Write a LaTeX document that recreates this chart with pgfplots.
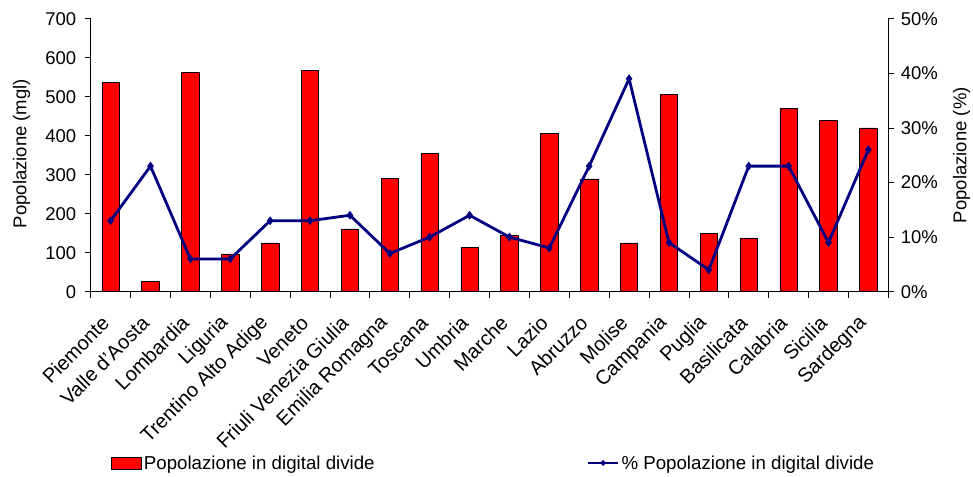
\documentclass[border=0pt]{standalone}
\usepackage{pgfplots}
\pgfplotsset{compat=1.18}
\usepackage{fontspec}
\setmainfont{Liberation Sans}
\usetikzlibrary{shapes.geometric}
\definecolor{barred}{HTML}{FF0000}
\definecolor{linenavy}{HTML}{000080}

\pgfplotstableread{
x  pop  pct
1  537  13
2  27   23
3  562  6
4  97   6
5  125  13
6  567  13
7  161  14
8  291  7
9  355  10
10 113  14
11 144  10
12 406  8
13 289  23
14 125  39
15 506  9
16 150  4
17 138  23
18 470  23
19 440  9
20 420  26
}\regioni

\begin{document}
\begin{tikzpicture}
\useasboundingbox (-90.7pt,-184.3pt) rectangle (882.3pt,291.7pt);
\pgfplotsset{
  every axis/.append style={
    scale only axis, width=797.6pt, height=273pt,
    xmin=0.5, xmax=20.5, ymin=0,
    font=\fontsize{18.5}{22}\selectfont,
    tick align=outside, major tick length=6pt,
    tick style={black, line width=0.8pt},
    axis line style={black, line width=0.8pt},
    /pgf/number format/assume math mode=true,
  }
}
% popolazione (migliaia) su asse sinistro
\begin{axis}[
  axis x line*=bottom, axis y line*=left,
  ymax=700, ytick={0,100,...,700},
  ybar, bar width=17.4pt,
  xtick={1,...,20},
  xticklabels={Piemonte, Valle d'Aosta, Lombardia, Liguria, Trentino Alto Adige, Veneto, Friuli Venezia Giulia, Emilia Romagna, Toscana, Umbria, Marche, Lazio, Abruzzo, Molise, Campania, Puglia, Basilicata, Calabria, Sicilia, Sardegna},
  major x tick style={draw=none},
  minor xtick={0.5,1.5,...,20.5},
  minor tick length=6pt,
  minor tick style={black, line width=0.8pt},
  xticklabel style={font=\fontsize{20}{24}\selectfont, yshift=-22pt, xshift=-5pt, rotate=45, anchor=east, inner sep=0pt},
  yticklabel style={xshift=-5pt},
  ylabel={Popolazione (mgl)},
  every axis y label/.style={at={(axis description cs:-0.0865,0.506)}, rotate=90, anchor=center},
]
\addplot[fill=barred, draw=black, line width=0.7pt] table[x=x, y=pop] {\regioni};
\end{axis}
% percentuale su asse destro
\begin{axis}[
  axis y line*=right, axis x line=none,
  ymax=50, ytick={0,10,...,50},
  yticklabel={\pgfmathprintnumber{\tick}\%},
  yticklabel style={xshift=3pt},
  ylabel={Popolazione (\%)},
  every axis y label/.style={at={(axis description cs:1.092,0.5)}, rotate=90, anchor=center},
  legend style={at={(axis description cs:0.0217,-0.6275)}, anchor=west, draw=none, fill=none,
    legend columns=2, font=\fontsize{18.7}{22}\selectfont,
    /tikz/every even column/.append style={column sep=210pt}},
]
\addlegendimage{legend image code/.code={\draw[fill=barred, draw=black, line width=0.7pt] (0pt,-6pt) rectangle (30pt,6pt);}}
\addlegendentry{Popolazione in digital divide}
\addplot[linenavy, line width=2.8pt, mark=diamond*, mark size=4pt, mark options={fill=linenavy, line width=0.5pt},
  legend image code/.code={\draw[linenavy, line width=2.8pt] (0pt,0pt) -- (30pt,0pt);
    \node[diamond, fill=linenavy, inner sep=0pt, minimum size=7pt] at (15pt,0pt) {};}]
  table[x=x, y=pct] {\regioni};
\addlegendentry{\% Popolazione in digital divide}
\end{axis}
\end{tikzpicture}
\end{document}
